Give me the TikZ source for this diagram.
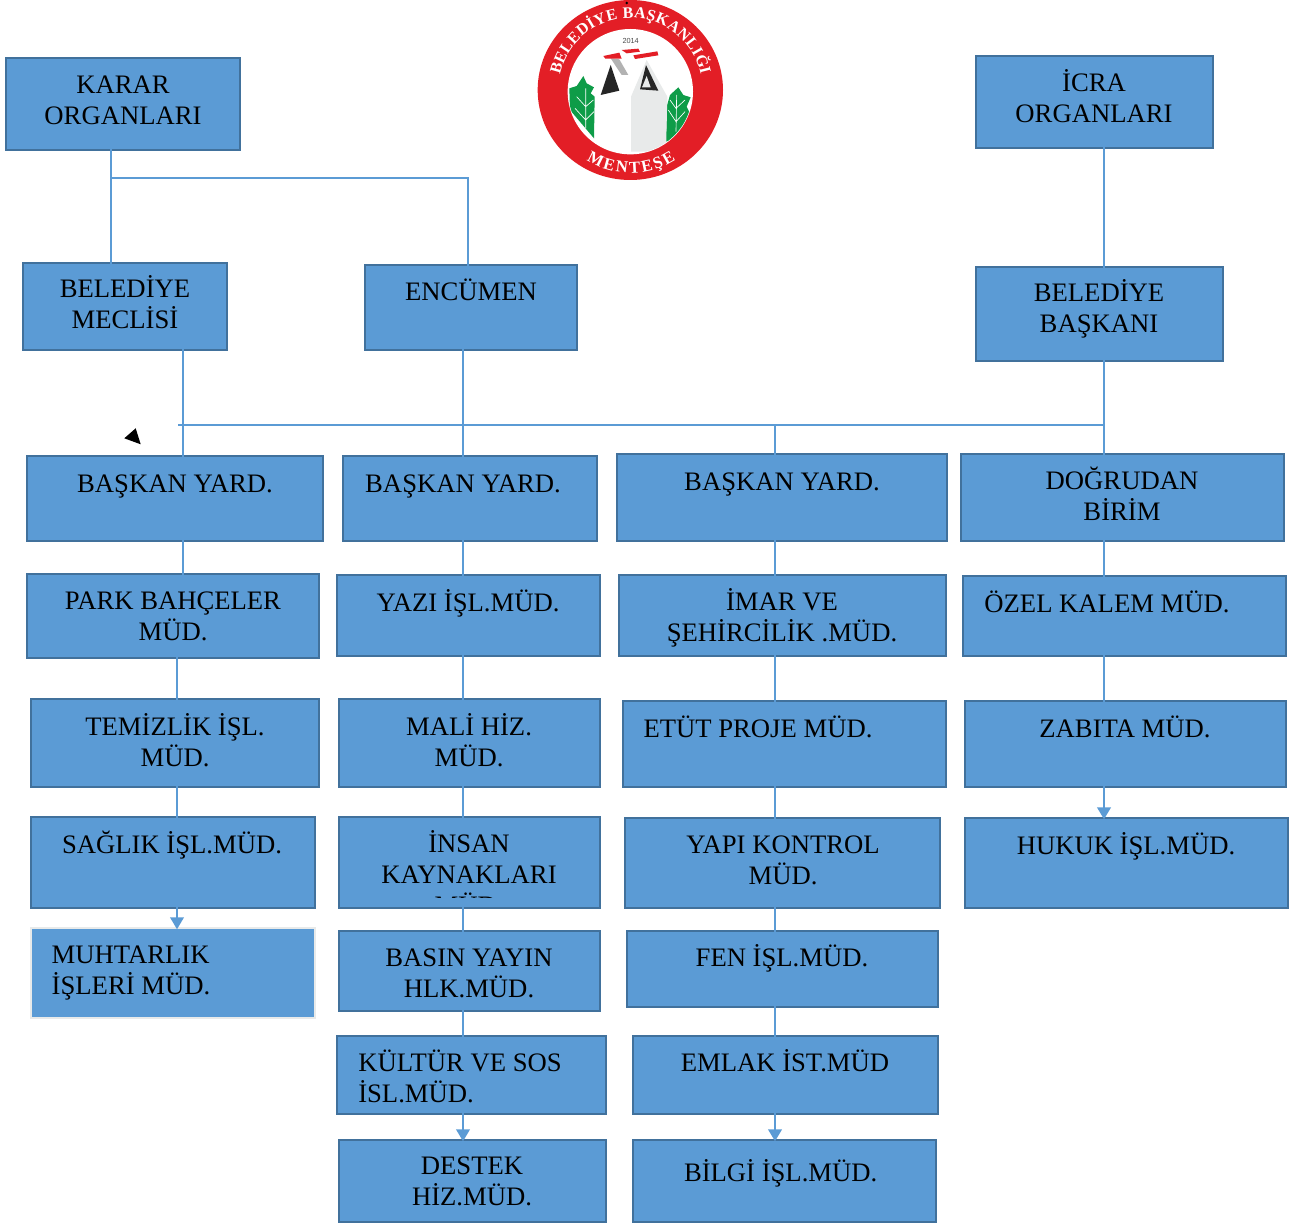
\documentclass[tikz,border=0pt]{standalone}
\usepackage{fontspec}
\setmainfont{Liberation Serif}
\newfontfamily\yearfont{Liberation Sans}
\usepackage{tikz}
\usetikzlibrary{arrows.meta,decorations.text}

\definecolor{boxblue}{HTML}{5B9BD5}
\definecolor{boxedge}{HTML}{41719C}
\definecolor{logored}{HTML}{E31E26}
\definecolor{logogreen}{HTML}{0E9C48}
\definecolor{logogrey}{HTML}{E8EAEA}

\tikzset{
    orgbox/.style={draw=boxedge,fill=boxblue,line width=2pt,inner sep=0pt,outer sep=0pt},
    orgtext/.style={inner sep=0pt,align=center,font=\fontsize{20}{23.2}\selectfont,text height=13.2pt,text depth=0pt},
    link/.style={draw=boxblue,line width=2.1pt,shorten <=-1.5pt,shorten >=-1.5pt},
    linkend/.style={link,-{Triangle[width=10pt,length=9pt]},shorten >=-1pt}
}

\begin{document}
\begin{tikzpicture}[x=0.75pt,y=-0.75pt]
        \useasboundingbox (0,0) rectangle (1296,1223);

        % Nodes
        \foreach \name/\xa/\ya/\xb/\yb/\tx/\ty/\txt in {
            karar/6/58/240/150/123/116/{KARAR\\ORGANLARI},
            icra/976/56/1213/148/1094/114/{İCRA\\ORGANLARI},
            meclis/23/263/227/350/125/320/{BELEDİYE\\MECLİSİ},
            encumen/365/265/577/350/471/292/{ENCÜMEN},
            baskan/976/267/1223/361/1099/324/{BELEDİYE\\BAŞKANI},
            yard1/27/456/323/541/175/484/{BAŞKAN YARD.},
            yard2/343/456/597/541/463/484/{BAŞKAN YARD.},
            yard3/617/454/947/541/782/482/{BAŞKAN YARD.},
            dogrudan/961/454/1284/541/1122/512/{DOĞRUDAN\\BİRİM},
            park/27/574/319/658/173/632/{PARK BAHÇELER\\MÜD.},
            yazi/337/575/600/656/468/603/{YAZI İŞL.MÜD.},
            imar/619/575/946/656/782/633/{İMAR VE\\ŞEHİRCİLİK .MÜD.},
            ozel/963/576/1286/656/1107/604/{ÖZEL KALEM MÜD.},
            temizlik/31/699/319/787/175/758/{TEMİZLİK İŞL.\\MÜD.},
            mali/339/699/600/787/469/758/{MALİ HİZ.\\MÜD.},
            etut/623/701/946/787/758/729/{ETÜT PROJE MÜD.},
            zabita/965/701/1286/787/1125/729/{ZABITA MÜD.},
            saglik/31/817/315/908/172/845/{SAĞLIK İŞL.MÜD.},
            yapi/625/818/940/908/783/876/{YAPI KONTROL\\MÜD.},
            hukuk/965/818/1288/908/1126/846/{HUKUK İŞL.MÜD.},
            basin/339/931/600/1011/469/989/{BASIN YAYIN\\HLK.MÜD.},
            fen/627/931/938/1007/782/958/{FEN İŞL.MÜD.},
            emlak/633/1036/938/1114/785/1063/{EMLAK İST.MÜD},
            destek/339/1140/606/1222/472/1197/{DESTEK\\HİZ.MÜD.},
            bilgi/633/1140/936/1222/784/1173/{BİLGİ İŞL.MÜD.}
        } {
            \node[orgbox,minimum width={(\xb-\xa)*0.75pt},minimum height={(\yb-\ya)*0.75pt}] (\name)
                at ({(\xa+\xb)/2},{(\ya+\yb)/2}) {};
            \node[orgtext] (\name-text) at (\tx,\ty) {\txt};
        }

        % Boxes with their own look
        \node[orgbox,draw=logogrey,line width=1.5pt,minimum width=213pt,minimum height=67.5pt] (muhtarlik) at (173,973) {};
        \node[orgtext,align=left] (muhtarlik-text) at (131,986) {MUHTARLIK\\İŞLERİ MÜD.};
        \node[orgbox,minimum width=201.75pt,minimum height=58.5pt] (kultur) at (471.5,1075) {};
        \node[orgtext,align=left] (kultur-text) at (460,1094) {KÜLTÜR VE SOS\\İSL.MÜD.};

        % Third line is cut off inside the box
        \node[orgbox,minimum width=195.75pt,minimum height=68.25pt] (insan) at (469.5,862.5) {};
        \begin{scope}
            \clip (342,819) rectangle (597,897);
            \node[orgtext] (insan-text) at (469,906) {İNSAN\\KAYNAKLARI\\MÜD.};
        \end{scope}

        % Edges
        \coordinate (colA) at (183,425);
        \coordinate (colB) at (463,425);
        \coordinate (colC) at (775,425);
        \coordinate (colD) at (1104,425);
        \coordinate (colE) at (177,425);
        \coordinate (busLeft) at (178,425);
        \coordinate (topLeft) at (111,178);
        \coordinate (topRight) at (468,178);

        \draw[link] (karar.south -| topLeft) -- (meclis.north -| topLeft);
        \draw[link,shorten <=0pt] (topLeft) -- (topRight) -- (encumen.north -| topRight);
        \draw[link] (icra.south -| colD) -- (baskan.north -| colD);
        \draw[link,line width=1.5pt,shorten <=0pt,shorten >=0pt] (busLeft) -- (colD);

        \draw[link] (meclis.south -| colA) -- (yard1.north -| colA);
        \draw[link] (yard1.south -| colA) -- (park.north -| colA);
        \draw[link] (park.south -| colE) -- (temizlik.north -| colE);
        \draw[link] (temizlik.south -| colE) -- (saglik.north -| colE);
        \draw[linkend] (saglik.south -| colE) -- (muhtarlik.north -| colE);

        \draw[link] (encumen.south -| colB) -- (yard2.north -| colB);
        \foreach \from/\to in {yard2/yazi,yazi/mali,mali/insan,insan/basin,basin/kultur} {
            \draw[link] (\from.south -| colB) -- (\to.north -| colB);
        }
        \draw[linkend] (kultur.south -| colB) -- (destek.north -| colB);

        \draw[link,shorten <=0pt] (colC) -- (yard3.north -| colC);
        \foreach \from/\to in {yard3/imar,imar/etut,etut/yapi,yapi/fen,fen/emlak} {
            \draw[link] (\from.south -| colC) -- (\to.north -| colC);
        }
        \draw[linkend] (emlak.south -| colC) -- (bilgi.north -| colC);

        \draw[link] (baskan.south -| colD) -- (dogrudan.north -| colD);
        \foreach \from/\to in {dogrudan/ozel,ozel/zabita} {
            \draw[link] (\from.south -| colD) -- (\to.north -| colD);
        }
        \draw[linkend] (zabita.south -| colD) -- (hukuk.north -| colD);

        % Stray marker
        \fill (135.7,428.3) -- (124.3,438.3) -- (140.7,444.3) -- cycle;

        % Logo, in coordinates of thirds of a pixel
        \begin{scope}[shift={(520,0)},x=0.25pt,y=-0.25pt]
            \fill[logored] (331,270) ellipse [x radius=278,y radius=270];
            \fill[white] (331,275) circle (188);
            \begin{scope}
                \clip (331,275) circle (186);
                \fill[logogreen] (190,228) -- (200,250) -- (222,262) -- (212,280) -- (224,290) -- (222,415)
                    -- (150,330) -- (148,265) -- (170,258) -- cycle;
                \fill[logogreen] (475,262) -- (490,285) -- (512,292) -- (500,320) -- (510,340) -- (500,400)
                    -- (438,425) -- (440,320) -- (450,285) -- cycle;
                \fill[logogrey] (333,455) -- (333,290) -- (365,215) -- (380,180) -- (442,290) -- (438,455) -- cycle;
                \fill[black!30] (272,175) -- (298,178) -- (325,225) -- (305,225) -- cycle;
                \fill[black!85] (272,195) -- (242,285) -- (298,272) -- cycle;
                \fill[black!85] (378,195) -- (360,268) -- (415,272) -- cycle;
                \fill[logogrey] (366,262) -- (380,228) -- (392,262) -- cycle;
                \draw[white,line width=0.5pt] (197,265) -- (197,385) (165,325) -- (197,360) -- (222,335)
                    (170,290) -- (197,320) -- (220,300);
                \draw[white,line width=0.5pt] (470,285) -- (468,395) (445,330) -- (468,365) -- (495,335)
                    (450,300) -- (468,325) -- (495,300);
                \fill[logored] (250,168) -- (298,158) -- (305,176) -- (256,176) -- cycle;
                \fill[logored] (305,150) -- (355,146) -- (360,155) -- (320,160) -- cycle;
                \fill[logored] (340,166) -- (412,154) -- (415,166) -- (345,177) -- cycle;
            \end{scope}
            \fill (320,9) circle (4);
            \node[inner sep=0pt,font=\yearfont\fontsize{5.5}{5.5}\selectfont,text=black!70] (logoyear) at (332,124) {2014};
        \end{scope}
        \begin{scope}[shift={(630.5,90)},x=0.75pt,y=0.75pt]
            \path[decorate,decoration={text along path,text color=white,text align={fit to path},
                text={|\bfseries\fontsize{12}{12}\selectfont|BELEDİYE BAŞKANLIĞI}}]
                (168:72) arc[start angle=168,end angle=12,radius=72];
            \path[decorate,decoration={text along path,text color=white,text align={fit to path},
                text={|\bfseries\fontsize{12.5}{12.5}\selectfont|MENTEŞE}}]
                (238:83) arc[start angle=238,end angle=303,radius=83];
        \end{scope}
    \end{tikzpicture}
\end{document}
